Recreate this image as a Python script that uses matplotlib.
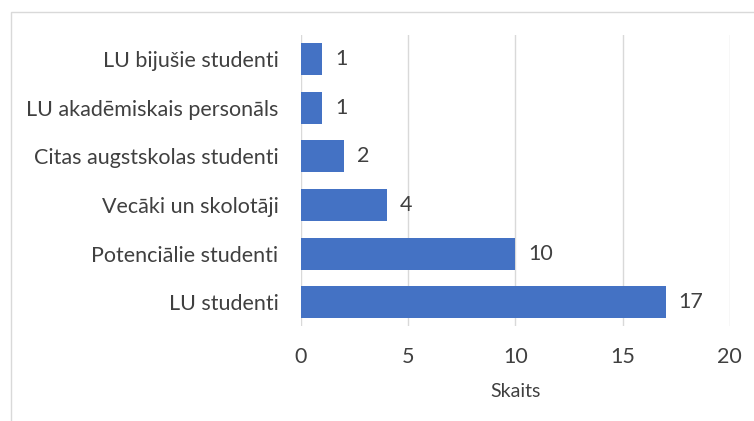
import matplotlib.pyplot as plt
from matplotlib.patches import Rectangle

categories = ['LU studenti', 'Potenciālie studenti', 'Vecāki un skolotāji',
              'Citas augstskolas studenti', 'LU akadēmiskais personāls', 'LU bijušie studenti']
values = [17, 10, 4, 2, 1, 1]
xticks = [0, 5, 10, 15, 20]

plt.rcParams['font.family'] = ['Lato', 'DejaVu Sans']
txt = '#404040'
fs = 15.5

fig = plt.figure(figsize=(7.54, 4.21), dpi=100)
ax = fig.add_axes([0.399, 0.2245, 0.569, 0.693])

pos = range(len(categories))
bars = ax.barh(pos, values, height=0.66, color='#4472C4', zorder=3)
for y, v in zip(pos, values):
    ax.text(v + 0.6, y, str(v), va='center', ha='left', fontsize=fs, color=txt)

ax.set_xlim(0, 20)
ax.set_ylim(-0.5, len(categories) - 0.5)
ax.set_xticks(xticks)
ax.set_yticks(list(pos))
ax.set_yticklabels(categories)
ax.tick_params(axis='y', length=0, pad=16, labelsize=fs, labelcolor=txt)
ax.tick_params(axis='x', length=0, pad=15, labelsize=fs, labelcolor=txt)
ax.grid(axis='x', color='#d9d9d9', linewidth=1, zorder=0)
for s in ax.spines.values():
    s.set_visible(False)
ax.set_xlabel('Skaits', fontsize=14, color=txt, labelpad=11)

# chart border (left and top visible)
fig.patches.append(Rectangle((11 / 754, -0.01), 1.0, 1 - 12 / 421 + 0.01,
                             transform=fig.transFigure, fill=False,
                             edgecolor='#d9d9d9', linewidth=1))

fig.savefig('out.png', dpi=100)
